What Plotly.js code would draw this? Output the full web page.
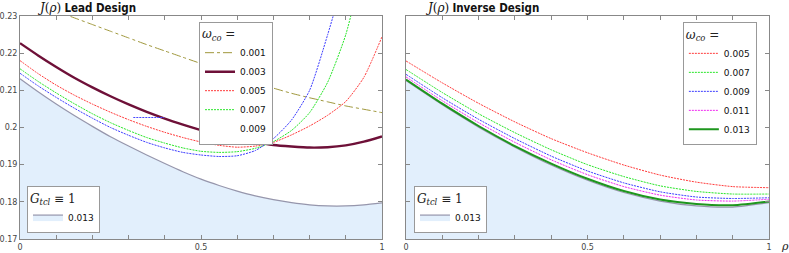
<!DOCTYPE html>
<html>
<head>
<meta charset="utf-8">
<script src="https://cdn.plot.ly/plotly-3.0.1.min.js"></script>
<style>html,body{margin:0;padding:0;background:#fff}#chart{width:789px;height:253px}</style>
</head>
<body>
<div id="chart"></div>
<script>
// ---------- data ----------
var rhoLead = [0,0.05,0.1,0.15,0.2,0.25,0.3,0.35,0.4,0.45,0.5,0.55,0.6,0.65,0.7,0.75,0.8,0.85,0.9,0.95,1.0];
var lead001 = [0.2350,0.2331,0.2313,0.2295,0.2277,0.2259,0.2241,0.2223,0.2206,0.2189,0.2172,0.2155,0.2138,0.2122,0.2106,0.2092,0.2080,0.2069,0.2058,0.2049,0.2040];
var lead003 = [0.2227,0.2194,0.2163,0.2134,0.2108,0.2084,0.2062,0.2042,0.2024,0.2008,0.1993,0.1980,0.1969,0.1960,0.1953,0.1949,0.1946,0.1947,0.1952,0.1962,0.1976];
var lead005 = [0.2180,0.2145,0.2114,0.2087,0.2063,0.2041,0.2021,0.2003,0.1987,0.1973,0.1961,0.1952,0.1947,0.1950,0.1960,0.1980,0.2004,0.2033,0.2070,0.2135,0.2244];
var lead007 = [0.2158,0.2124,0.2093,0.2064,0.2037,0.2013,0.1992,0.1973,0.1958,0.1945,0.1936,0.1933,0.1935,0.1944,0.1962,0.1992,0.2040,0.2122,0.2250,0.2450,0.2700];
var lead009 = [0.2146,0.2112,0.2081,0.2052,0.2025,0.2000,0.1979,0.1960,0.1945,0.1933,0.1926,0.1922,0.1924,0.1938,0.1970,0.2020,0.2100,0.2250,0.2420,0.2620,0.2850];
var lead013 = [0.2131,0.2096,0.2063,0.2032,0.2003,0.1975,0.1950,0.1926,0.1903,0.1881,0.1861,0.1844,0.1829,0.1816,0.1806,0.1798,0.1792,0.1789,0.1789,0.1792,0.1797];
var strayX = [0.313,0.398];
var strayY = [0.2027,0.2027];

var rhoInv = [0,0.1,0.2,0.3,0.4,0.5,0.6,0.7,0.8,0.9,1.0];
var inv005 = [0.2179,0.2120,0.2065,0.2015,0.1970,0.1932,0.1899,0.1872,0.1853,0.1841,0.1838];
var inv007 = [0.2156,0.2094,0.2037,0.1986,0.1940,0.1900,0.1868,0.1843,0.1828,0.1821,0.1821];
var inv009 = [0.2143,0.2080,0.2022,0.1970,0.1923,0.1883,0.1851,0.1827,0.1813,0.1809,0.1811];
var inv011 = [0.2136,0.2072,0.2013,0.1960,0.1913,0.1873,0.1841,0.1818,0.1805,0.1802,0.1807];
var inv013 = [0.2129,0.2064,0.2004,0.1950,0.1903,0.1862,0.1829,0.1806,0.1794,0.1791,0.1801];
var invG013 = [0.2126,0.2061,0.2001,0.1947,0.1899,0.1858,0.1825,0.1802,0.1789,0.1786,0.1798];

var xTickVals = [0,0.5,1];
var xTickText = ['0','0.5','1'];
var yTickVals = [0.17,0.18,0.19,0.2,0.21,0.22,0.23];
var yTickText = ['0.17','0.18','0.19','0.2','0.21','0.22','0.23'];

// ---------- styles ----------
var fillCol = 'rgb(226,239,252)';
var grayCol = 'rgb(150,150,172)';
var fine = '2px,1px';
var sp = {shape:'spline', smoothing:0.6};
function L(o){ return Object.assign({}, sp, o); }

var traces = [
  // Lead design
  {x:rhoLead, y:lead013, xaxis:'x', yaxis:'y', mode:'lines', name:'0.013', legend:'legend2',
   fill:'tozeroy', fillcolor:fillCol, line:L({color:grayCol, width:1.2})},
  {x:rhoLead, y:lead001, xaxis:'x', yaxis:'y', mode:'lines', name:'0.001', legend:'legend',
   line:L({color:'rgb(160,152,60)', width:1, dash:'dashdot'})},
  {x:rhoLead, y:lead003, xaxis:'x', yaxis:'y', mode:'lines', name:'0.003', legend:'legend',
   line:L({color:'rgb(110,16,56)', width:2.4})},
  {x:rhoLead, y:lead005, xaxis:'x', yaxis:'y', mode:'lines', name:'0.005', legend:'legend',
   line:L({color:'rgb(255,60,60)', width:1, dash:fine})},
  {x:rhoLead, y:lead007, xaxis:'x', yaxis:'y', mode:'lines', name:'0.007', legend:'legend',
   line:L({color:'rgb(40,230,40)', width:1, dash:fine})},
  {x:rhoLead, y:lead009, xaxis:'x', yaxis:'y', mode:'lines', name:'0.009', showlegend:false,
   line:L({color:'rgb(60,60,255)', width:1, dash:fine})},
  {x:[null], y:[null], xaxis:'x', yaxis:'y', mode:'lines', name:'0.009', legend:'legend',
   line:{color:'rgba(0,0,0,0)', width:1}},
  {x:strayX, y:strayY, xaxis:'x', yaxis:'y', mode:'lines', showlegend:false,
   line:{color:'rgb(70,70,255)', width:1.1, dash:fine}},
  // Inverse design
  {x:rhoInv, y:invG013, xaxis:'x2', yaxis:'y2', mode:'lines', name:'0.013', legend:'legend4',
   fill:'tozeroy', fillcolor:fillCol, line:L({color:grayCol, width:1.2})},
  {x:rhoInv, y:inv005, xaxis:'x2', yaxis:'y2', mode:'lines', name:'0.005', legend:'legend3',
   line:L({color:'rgb(255,60,60)', width:1, dash:fine})},
  {x:rhoInv, y:inv007, xaxis:'x2', yaxis:'y2', mode:'lines', name:'0.007', legend:'legend3',
   line:L({color:'rgb(40,230,40)', width:1, dash:fine})},
  {x:rhoInv, y:inv009, xaxis:'x2', yaxis:'y2', mode:'lines', name:'0.009', legend:'legend3',
   line:L({color:'rgb(60,60,255)', width:1, dash:fine})},
  {x:rhoInv, y:inv011, xaxis:'x2', yaxis:'y2', mode:'lines', name:'0.011', legend:'legend3',
   line:L({color:'rgb(240,40,240)', width:1, dash:fine})},
  {x:rhoInv, y:inv013, xaxis:'x2', yaxis:'y2', mode:'lines', name:'0.013', legend:'legend3',
   line:L({color:'rgb(30,150,30)', width:2})}
];

var axFont = {family:'DejaVu Sans, sans-serif', size:8, color:'#444'};
function xAx(dom, anchor){
  return {domain:dom, anchor:anchor, range:[0,1], tickmode:'array', tickvals:xTickVals, ticktext:xTickText,
    ticks:'inside', ticklen:4, tickcolor:'#888', showline:true, linecolor:'#888', linewidth:1,
    minor:{tick0:0, dtick:0.1, ticks:'inside', ticklen:4, tickcolor:'#888', showgrid:false},
    mirror:'ticks', showgrid:false, zeroline:false, tickfont:axFont, fixedrange:true};
}
function yAx(anchor, labels){
  return {anchor:anchor, domain:[0,1], range:[0.17,0.23], tickmode:'array', tickvals:yTickVals, ticktext:yTickText,
    ticks:'inside', ticklen:4, tickcolor:'#888', showline:true, linecolor:'#888', linewidth:1,
    mirror:'ticks', showgrid:false, zeroline:false, tickfont:axFont, showticklabels:labels, fixedrange:true};
}
var legFont = {family:'DejaVu Sans, sans-serif', size:9, color:'#111'};
var legTitleFont = {family:'DejaVu Serif, Liberation Serif, serif', size:12, color:'#222'};
function leg(x, y, yanchor, title){
  return {x:x, y:y, xanchor:'left', yanchor:yanchor, bgcolor:'#fff', bordercolor:'#999', borderwidth:1,
    font:legFont, title:{text:title, font:legTitleFont}, tracegroupgap:0, itemwidth:30, traceorder:'normal'};
}
var wTitle = '<i>ω</i><sub><i>co</i></sub> =';
var gTitle = '<i>G</i><sub><i>tcl</i></sub> ≡ 1 ';
var serifSpan = '<span style="font-family:DejaVu Serif, Liberation Serif, serif;font-weight:normal;font-size:12px">';
var boldSpan = '<span style="font-family:DejaVu Sans Condensed, Liberation Sans Narrow, sans-serif;font-weight:bold;font-size:11.5px">';

var layout = {
  width:789, height:253,
  margin:{l:20, r:20, t:16, b:14},
  paper_bgcolor:'#fff', plot_bgcolor:'#fff',
  xaxis: xAx([0,0.4833], 'y'),
  yaxis: yAx('x', true),
  xaxis2: xAx([0.5154,1], 'y2'),
  yaxis2: yAx('x2', false),
  legend: leg(0.239, 0.975, 'top', wTitle),
  legend2: leg(0.0093, 0.027, 'bottom', gTitle),
  legend3: leg(0.885, 0.972, 'top', wTitle),
  legend4: leg(0.526, 0.027, 'bottom', gTitle),
  annotations:[
    {xref:'paper', yref:'paper', x:0.02, y:1, yanchor:'bottom', xanchor:'left', yshift:-2, showarrow:false,
     text: serifSpan+'<i>J</i>(<i>ρ</i>)</span> '+boldSpan+'Lead Design</span>', font:{size:12, color:'#111'}},
    {xref:'paper', yref:'paper', x:0.5385, y:1, yanchor:'bottom', xanchor:'left', yshift:-2, showarrow:false,
     text: serifSpan+'<i>J</i>(<i>ρ</i>)</span> '+boldSpan+'Inverse Design</span>', font:{size:12, color:'#111'}},
    {xref:'paper', yref:'paper', x:1, y:0, xanchor:'left', yanchor:'top', xshift:10, yshift:1, showarrow:false,
     text:'<i>ρ</i>', font:{family:'DejaVu Serif, serif', size:11, color:'#222'}}
  ],
  showlegend:true
};

Plotly.newPlot('chart', traces, layout, {staticPlot:true, displayModeBar:false});
</script>
</body>
</html>
